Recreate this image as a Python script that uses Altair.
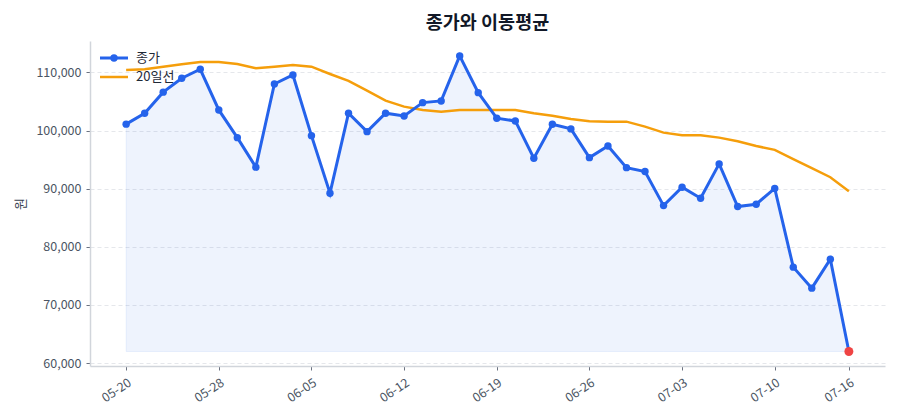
import altair as alt
import pandas as pd

# Daily closing prices (원), one per trading session
close = [101100, 102980, 106600, 109000, 110540, 103540, 98780, 93700, 108000, 109560,
         99120, 89220, 102980, 99810, 102980, 102510, 104800, 105090, 112830, 106520,
         102120, 101650, 95240, 101080, 100280, 95340, 97350, 93620, 92940, 87090,
         90250, 88360, 94260, 86920, 87330, 90050, 76500, 72890, 77880, 62000]

# 20-session moving average
ma20 = [110420, 110540, 110990, 111400, 111790, 111790, 111450, 110710, 110990, 111280,
        110990, 109730, 108530, 106860, 105140, 104110, 103540, 103250, 103540, 103540,
        103540, 103540, 102970, 102560, 101990, 101600, 101530, 101530, 100670, 99640,
        99190, 99190, 98780, 98160, 97350, 96670, 95070, 93520, 91970, 89570]

# Session positions that carry a date label, and those labels
tick_pos = [0, 5, 10, 15, 20, 25, 30, 35, 39]
tick_labels = ["05-20", "05-28", "06-05", "06-12", "06-19", "06-26", "07-03", "07-10", "07-16"]

y_ticks = [60000, 70000, 80000, 90000, 100000, 110000]

legend_labels = ["종가", "20일선"]

BLUE = "#2563eb"
ORANGE = "#f59e0b"
RED = "#ef4444"
FONT = "Noto Sans CJK KR"

df = pd.DataFrame({"idx": list(range(len(close))), "close": close, "ma20": ma20})
df["is_last"] = df["idx"] == df["idx"].max()

label_expr = "[{}][indexof([{}], datum.value)]".format(
    ",".join("'%s'" % t for t in tick_labels), ",".join(str(p) for p in tick_pos)
)

x_scale = alt.Scale(domain=[-1.95, 40.95], nice=False, zero=False)
x_axis = alt.Axis(
    values=tick_pos, labelExpr=label_expr, labelAngle=-34, labelAlign="right",
    labelBaseline="top", labelPadding=6, grid=False, title=None,
    tickSize=4, labelFontSize=12.5,
)
y_scale = alt.Scale(domain=[59500, 115400], nice=False, zero=False)
y_axis = alt.Axis(
    values=y_ticks, labelExpr="format(datum.value, ',')", title="원", grid=True,
    gridDash=[4, 3], gridColor="#e5e7eb", gridWidth=1, tickSize=4, labelPadding=5,
    titlePadding=8, titleFontSize=13, titleFontWeight="normal", labelFontSize=12.5,
)


def xy(field):
    return dict(
        x=alt.X("idx:Q", scale=x_scale, axis=x_axis),
        y=alt.Y(f"{field}:Q", scale=y_scale, axis=y_axis),
    )


base = alt.Chart(df)

area = base.transform_joinaggregate(lo="min(close)").mark_area(
    color=BLUE, fillOpacity=0.08, stroke=BLUE, strokeOpacity=0.08, strokeWidth=1
).encode(y2="lo:Q", **xy("close"))

ma_line = base.mark_line(color=ORANGE, strokeWidth=2.5).encode(**xy("ma20"))

close_line = base.mark_line(color=BLUE, strokeWidth=3).encode(**xy("close"))

close_pts = base.transform_filter("!datum.is_last").mark_circle(
    color=BLUE, size=55, opacity=1
).encode(**xy("close"))

last_pt = base.transform_filter("datum.is_last").mark_circle(
    color=RED, size=80, opacity=1
).encode(**xy("close"))

# Legend drawn in the upper-left corner of the plot
one = pd.DataFrame({"k": [0]})
leg_close_line = alt.Chart(one).mark_rule(color=BLUE, strokeWidth=3).encode(
    x=alt.value(10), x2=alt.value(38), y=alt.value(17)
)
leg_close_dot = alt.Chart(one).mark_circle(color=BLUE, size=55, opacity=1).encode(
    x=alt.value(24), y=alt.value(17)
)
leg_close_txt = alt.Chart(one).mark_text(
    text=legend_labels[0], align="left", baseline="middle", fontSize=13, font=FONT, color="#1f2937"
).encode(x=alt.value(46), y=alt.value(17))
leg_ma_line = alt.Chart(one).mark_rule(color=ORANGE, strokeWidth=2.5).encode(
    x=alt.value(10), x2=alt.value(38), y=alt.value(36)
)
leg_ma_txt = alt.Chart(one).mark_text(
    text=legend_labels[1], align="left", baseline="middle", fontSize=13, font=FONT, color="#1f2937"
).encode(x=alt.value(46), y=alt.value(36))

chart = alt.layer(
    area, ma_line, close_line, close_pts, last_pt,
    leg_close_line, leg_close_dot, leg_close_txt, leg_ma_line, leg_ma_txt,
).properties(
    width=795, height=325,
    title=alt.TitleParams(
        "종가와 이동평균", fontSize=18.5, fontWeight="bold", font=FONT, color="#111827",
        anchor="middle", offset=9,
    ),
    autosize=alt.AutoSizeParams(type="none"),
    padding={"left": 90, "top": 41, "right": 15, "bottom": 54},
    background="white",
).configure_view(
    stroke=None
).configure_axis(
    labelFont=FONT, titleFont=FONT, labelColor="#4b5563", titleColor="#374151",
    domainColor="#d1d5db", domainWidth=1.5, tickColor="#6b7280", tickWidth=1,
)

chart.save("out.html", embed_options={"renderer": "svg", "actions": False})
